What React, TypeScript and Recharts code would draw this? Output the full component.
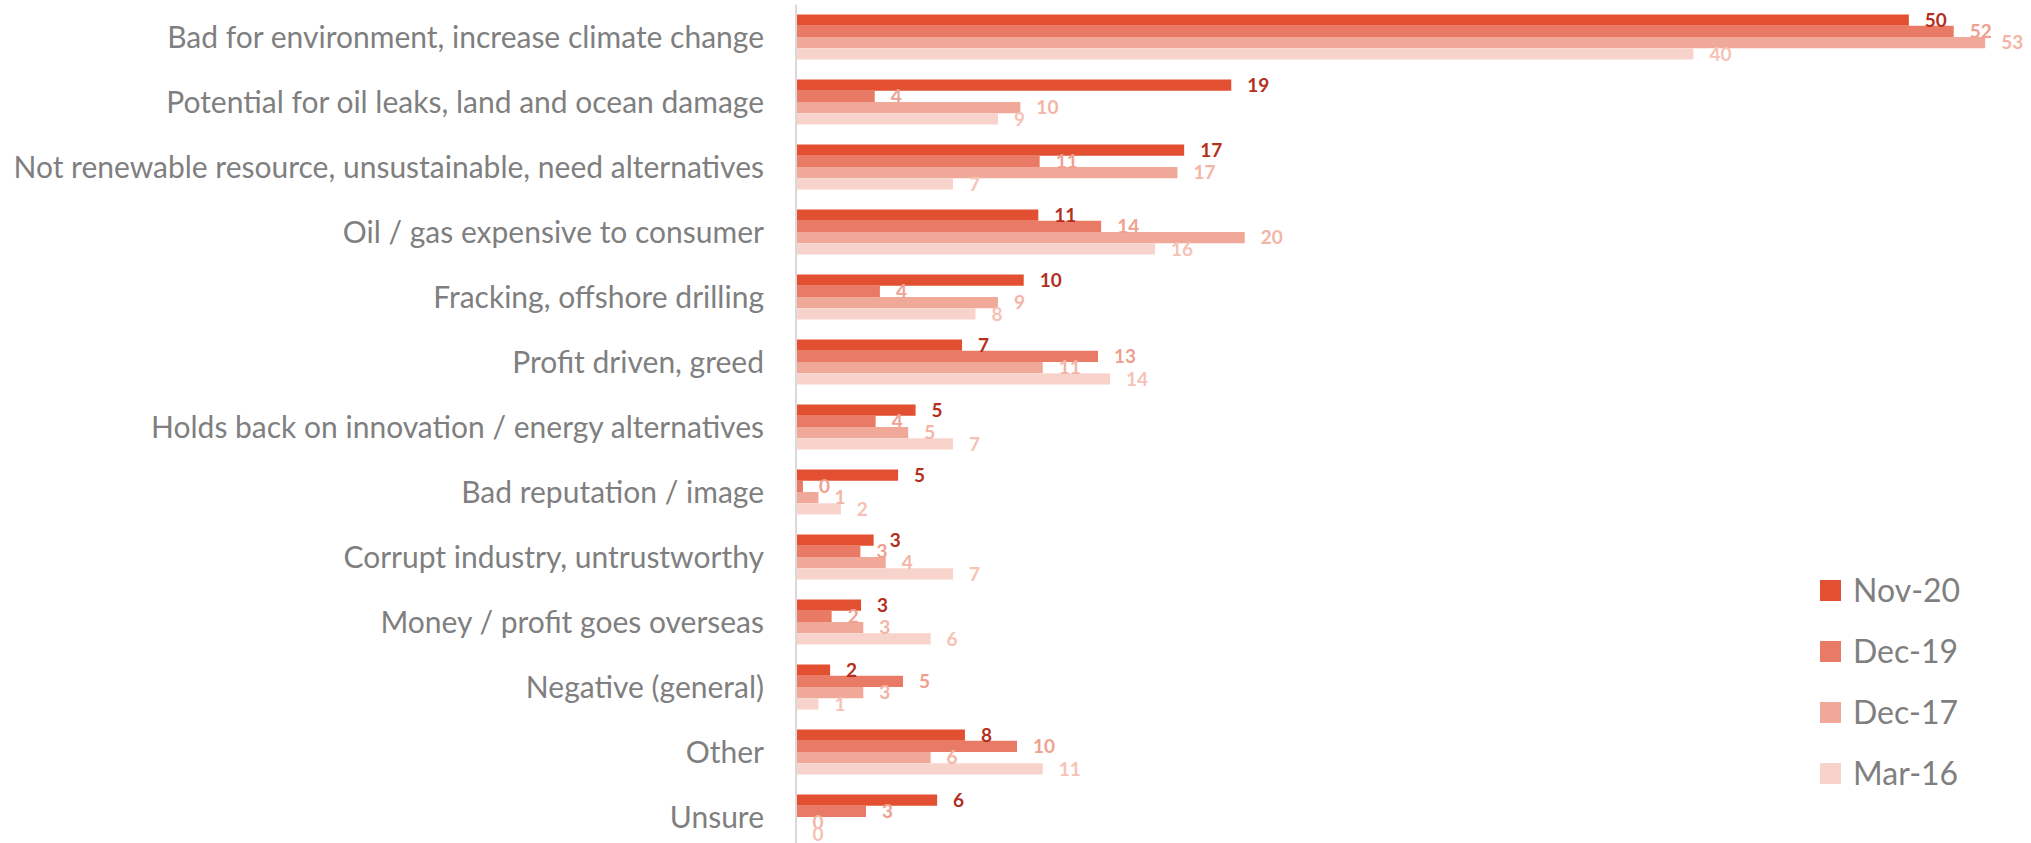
import { Bar, BarChart, LabelList, Legend, XAxis, YAxis } from "recharts";

const categories = [
  "Bad for environment, increase climate change",
  "Potential for oil leaks, land and ocean damage",
  "Not renewable resource, unsustainable, need alternatives",
  "Oil / gas expensive to consumer",
  "Fracking, offshore drilling",
  "Profit driven, greed",
  "Holds back on innovation / energy alternatives",
  "Bad reputation / image",
  "Corrupt industry, untrustworthy",
  "Money / profit goes overseas",
  "Negative (general)",
  "Other",
  "Unsure",
];

const nov20 = [49.6, 19.4, 17.3, 10.8, 10.15, 7.4, 5.33, 4.55, 3.46, 2.9, 1.52, 7.53, 6.29];
const dec19 = [51.6, 3.51, 10.86, 13.6, 3.74, 13.46, 3.55, 0.31, 2.87, 1.59, 4.77, 9.85, 3.12];
const dec17 = [53, 10, 17, 20, 9, 11, 5, 1, 4, 3, 3, 6, 0];
const mar16 = [40, 9, 7, 16, 8, 14, 7, 2, 7, 6, 1, 11, 0];

const series = [
  { key: "nov20", name: "Nov-20", fill: "#E34F31", label: "#B3301E" },
  { key: "dec19", name: "Dec-19", fill: "#E97B66", label: "#F0A090" },
  { key: "dec17", name: "Dec-17", fill: "#F0A898", label: "#F4B4A6" },
  { key: "mar16", name: "Mar-16", fill: "#F8D3CC", label: "#F6C2B6" },
];

const data = categories.map((name, i) => ({
  name,
  nov20: nov20[i],
  dec19: dec19[i],
  dec17: dec17[i],
  mar16: mar16[i],
}));

const font = "Lato, 'Open Sans', sans-serif";

// legend drawn in series order (recharts sorts payload by name otherwise)
function LegendBox() {
  return (
    <div style={{ fontFamily: font }}>
      {series.map((s) => (
        <div key={s.key} style={{ height: 61, display: "flex", alignItems: "center" }}>
          <span style={{ width: 21, height: 21, background: s.fill, display: "inline-block" }} />
          <span style={{ marginLeft: 12, fontSize: 32, color: "#7F7F7F", lineHeight: 1 }}>{s.name}</span>
        </div>
      ))}
    </div>
  );
}

export default function App() {
  return (
    <div style={{ position: "absolute", left: 0, top: 0, width: 2031, height: 843, overflow: "hidden", background: "#fff" }}>
      <BarChart
        width={2031}
        height={850}
        data={data}
        layout="vertical"
        margin={{ top: 4.5, right: 1, bottom: 0.5, left: 0 }}
        barGap={0}
        barSize={11.25}
      >
        <XAxis type="number" hide domain={[0, 55]} />
        <YAxis
          type="category"
          dataKey="name"
          width={796}
          tickSize={0}
          tickMargin={32}
          axisLine={{ stroke: "#D9D9D9", strokeWidth: 2 }}
          tickLine={false}
          interval={0}
          tick={{ fill: "#7F7F7F", fontSize: 30, fontFamily: font }}
        />
        <Legend
          layout="horizontal"
          verticalAlign="middle"
          align="center"
          content={<LegendBox />}
          wrapperStyle={{ left: 1820, top: 559.5, width: 210 }}
        />
        {series.map((s) => (
          <Bar
            key={s.key}
            dataKey={s.key}
            name={s.name}
            fill={s.fill}
            minPointSize={0.5}
            isAnimationActive={false}
          >
            <LabelList
              dataKey={s.key}
              position="right"
              offset={16}
              formatter={(v: any) => Math.round(Number(v))}
              style={{ fill: s.label, fontSize: 19, fontWeight: 700, fontFamily: font }}
            />
          </Bar>
        ))}
      </BarChart>
    </div>
  );
}
